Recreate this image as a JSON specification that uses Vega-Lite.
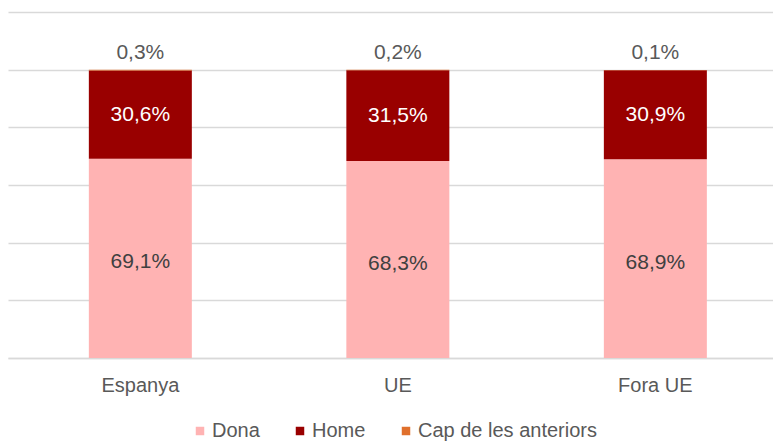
{
  "$schema": "https://vega.github.io/schema/vega-lite/v6.json",
  "width": 765,
  "height": 346,
  "autosize": {"type": "none"},
  "padding": {"left": 8, "top": 12, "right": 0, "bottom": 83},
  "background": "white",
  "config": {
    "view": {"stroke": null},
    "font": "Liberation Sans"
  },
  "data": {
    "values": [
      {"cat": "Espanya", "serie": "Dona", "ord": 1, "value": 69.1, "label": "69,1%"},
      {"cat": "Espanya", "serie": "Home", "ord": 2, "value": 30.6, "label": "30,6%"},
      {"cat": "Espanya", "serie": "Cap de les anteriors", "ord": 3, "value": 0.3, "label": "0,3%"},
      {"cat": "UE", "serie": "Dona", "ord": 1, "value": 68.3, "label": "68,3%"},
      {"cat": "UE", "serie": "Home", "ord": 2, "value": 31.5, "label": "31,5%"},
      {"cat": "UE", "serie": "Cap de les anteriors", "ord": 3, "value": 0.2, "label": "0,2%"},
      {"cat": "Fora UE", "serie": "Dona", "ord": 1, "value": 68.9, "label": "68,9%"},
      {"cat": "Fora UE", "serie": "Home", "ord": 2, "value": 30.9, "label": "30,9%"},
      {"cat": "Fora UE", "serie": "Cap de les anteriors", "ord": 3, "value": 0.1, "label": "0,1%"}
    ]
  },
  "transform": [
    {"stack": "value", "groupby": ["cat"], "sort": [{"field": "ord", "order": "ascending"}], "as": ["v0", "v1"]},
    {"calculate": "(datum.v0 + datum.v1) / 2", "as": "mid"}
  ],
  "encoding": {
    "x": {
      "field": "cat",
      "type": "nominal",
      "sort": ["Espanya", "UE", "Fora UE"],
      "scale": {"paddingInner": 0.6, "paddingOuter": 0.2854, "align": 0.55},
      "axis": {
        "title": null,
        "labelAngle": 0,
        "labelFontSize": 20,
        "labelColor": "#595959",
        "labelPadding": 17,
        "ticks": false,
        "domainColor": "#D9D9D9",
        "domainWidth": 1.5
      }
    }
  },
  "layer": [
    {
      "mark": {"type": "bar"},
      "encoding": {
        "y": {
          "field": "v0",
          "type": "quantitative",
          "scale": {"domain": [0, 120], "nice": false},
          "axis": {
            "title": null,
            "labels": false,
            "ticks": false,
            "domain": false,
            "values": [0, 20, 40, 60, 80, 100, 120],
            "gridColor": "#D9D9D9",
            "gridWidth": 1.5
          }
        },
        "y2": {"field": "v1"},
        "color": {
          "field": "serie",
          "type": "nominal",
          "sort": ["Dona", "Home", "Cap de les anteriors"],
          "scale": {
            "domain": ["Dona", "Home", "Cap de les anteriors"],
            "range": ["#FFB3B3", "#990000", "#E0702C"]
          },
          "legend": {
            "title": null,
            "orient": "none",
            "direction": "horizontal",
            "legendX": 182,
            "legendY": 409,
            "symbolType": "square",
            "symbolSize": 72,
            "symbolStrokeWidth": 0,
            "labelFontSize": 20,
            "labelColor": "#595959",
            "labelOffset": 2,
            "labelLimit": 400,
            "columnPadding": 30
          }
        }
      }
    },
    {
      "transform": [{"filter": "datum.serie === 'Home'"}],
      "mark": {"type": "text", "fontSize": 21, "baseline": "middle", "align": "center"},
      "encoding": {
        "y": {"field": "mid", "type": "quantitative"},
        "text": {"field": "label"},
        "color": {"value": "#FFFFFF"}
      }
    },
    {
      "transform": [{"filter": "datum.serie === 'Dona'"}],
      "mark": {"type": "text", "fontSize": 21, "baseline": "middle", "align": "center", "dy": 4},
      "encoding": {
        "y": {"field": "mid", "type": "quantitative"},
        "text": {"field": "label"},
        "color": {"value": "#404040"}
      }
    },
    {
      "transform": [{"filter": "datum.serie === 'Cap de les anteriors'"}],
      "mark": {"type": "text", "fontSize": 21, "baseline": "middle", "align": "center", "dy": -17},
      "encoding": {
        "y": {"field": "v1", "type": "quantitative"},
        "text": {"field": "label"},
        "color": {"value": "#595959"}
      }
    }
  ]
}
